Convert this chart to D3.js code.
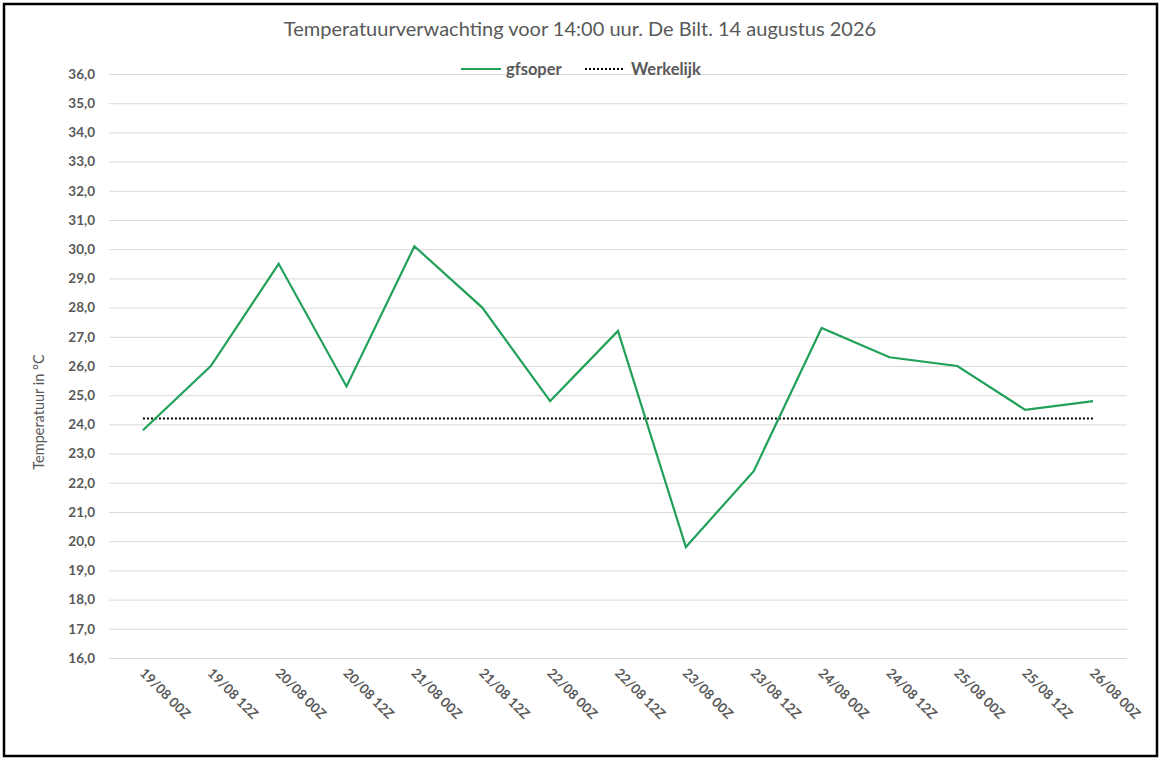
<!DOCTYPE html>
<html>
<head>
<meta charset="utf-8">
<script src="https://cdn.jsdelivr.net/npm/d3@7"></script>
<style>
  body { margin: 0; background: #fff; }
  svg { display: block; font-family: Lato, "Open Sans", sans-serif; }
</style>
</head>
<body>
<div id="chart"></div>
<script>
// categories = forecast runs
var runs = [
  "19/08 00Z", "19/08 12Z", "20/08 00Z", "20/08 12Z", "21/08 00Z",
  "21/08 12Z", "22/08 00Z", "22/08 12Z", "23/08 00Z", "23/08 12Z",
  "24/08 00Z", "24/08 12Z", "25/08 00Z", "25/08 12Z", "26/08 00Z"
];
// gfsoper forecast temperature
var gfsoper = [23.8, 26.0, 29.5, 25.3, 30.1, 28.0, 24.8, 27.2, 19.8, 22.4, 27.3, 26.3, 26.0, 24.5, 24.8];
// observed temperature
var werkelijk = [24.2, 24.2, 24.2, 24.2, 24.2, 24.2, 24.2, 24.2, 24.2, 24.2, 24.2, 24.2, 24.2, 24.2, 24.2];
var yTicks = [16, 17, 18, 19, 20, 21, 22, 23, 24, 25, 26, 27, 28, 29, 30, 31, 32, 33, 34, 35, 36];

var W = 1160, H = 760;
var margin = { top: 74, right: 33, bottom: 102, left: 109 },
  width = W - margin.left - margin.right,
  height = H - margin.top - margin.bottom;

var textGrey = "#595959";

var root = d3.select("#chart").append("svg")
  .attr("width", W)
  .attr("height", H);

// outer frame
root.append("rect")
  .attr("x", 4).attr("y", 4)
  .attr("width", W - 7).attr("height", H - 8)
  .attr("fill", "none")
  .attr("stroke", "#000")
  .attr("stroke-width", 2.5);

// title
root.append("text")
  .attr("x", 580).attr("y", 36)
  .attr("text-anchor", "middle")
  .attr("font-size", 20)
  .attr("fill", textGrey)
  .text("Temperatuurverwachting voor 14:00 uur. De Bilt. 14 augustus 2026");

var svg = root.append("g")
  .attr("transform", "translate(" + margin.left + "," + margin.top + ")");

var x = d3.scaleBand().domain(runs).range([0, width]);
var y = d3.scaleLinear().domain([16, 36]).range([height, 0]);

// gridlines
svg.append("g")
  .call(d3.axisLeft(y).tickValues(yTicks).tickSize(-width).tickFormat(""))
  .call((g) => g.select(".domain").remove())
  .selectAll("line")
  .attr("stroke", "#d9d9d9")
  .attr("stroke-width", 1);

// y axis labels
svg.append("g")
  .call(d3.axisLeft(y).tickValues(yTicks).tickSize(0).tickPadding(14)
    .tickFormat((d) => d3.format(".1f")(d).replace(".", ",")))
  .call((g) => g.select(".domain").remove())
  .selectAll("text")
  .attr("font-family", "Lato, 'Open Sans', sans-serif")
  .attr("font-size", 13.5)
  .attr("font-weight", "bold")
  .attr("fill", textGrey);

// x axis labels
svg.append("g")
  .attr("transform", "translate(0," + height + ")")
  .call(d3.axisBottom(x).tickSize(0).tickPadding(0))
  .call((g) => g.select(".domain").remove())
  .selectAll("text")
  .attr("font-family", "Lato, 'Open Sans', sans-serif")
  .attr("font-size", 13.5)
  .attr("font-weight", "bold")
  .attr("fill", textGrey)
  .attr("dy", 0)
  .attr("text-anchor", "start")
  .attr("transform", "translate(-4,16)rotate(45)");

// y axis title
root.append("text")
  .attr("transform", "translate(44,412)rotate(-90)")
  .attr("text-anchor", "middle")
  .attr("font-size", 14.5)
  .attr("fill", textGrey)
  .text("Temperatuur in °C");

var cx = (d, i) => x(runs[i]) + x.bandwidth() / 2;

// observed (dotted)
svg.append("path")
  .datum(werkelijk)
  .attr("fill", "none")
  .attr("stroke", "#000")
  .attr("stroke-width", 2)
  .attr("stroke-dasharray", "2,2")
  .attr("d", d3.line().x(cx).y((d) => y(d)));

// forecast line
svg.append("path")
  .datum(gfsoper)
  .attr("fill", "none")
  .attr("stroke", "#21a05a")
  .attr("stroke-width", 2.2)
  .attr("stroke-linejoin", "miter")
  .attr("d", d3.line().x(cx).y((d) => y(d)));

// legend
var legend = root.append("g").attr("transform", "translate(461,69)");
legend.append("line")
  .attr("x1", 0).attr("x2", 40).attr("y1", 0).attr("y2", 0)
  .attr("stroke", "#21a05a").attr("stroke-width", 2.2);
legend.append("text")
  .attr("x", 45).attr("y", 6)
  .attr("font-size", 16.5).attr("font-weight", "bold")
  .attr("fill", textGrey)
  .text("gfsoper");
legend.append("line")
  .attr("x1", 124).attr("x2", 164).attr("y1", 0).attr("y2", 0)
  .attr("stroke", "#000").attr("stroke-width", 2)
  .attr("stroke-dasharray", "2,2");
legend.append("text")
  .attr("x", 170).attr("y", 6)
  .attr("font-size", 16.5).attr("font-weight", "bold")
  .attr("fill", textGrey)
  .text("Werkelijk");
</script>
</body>
</html>
